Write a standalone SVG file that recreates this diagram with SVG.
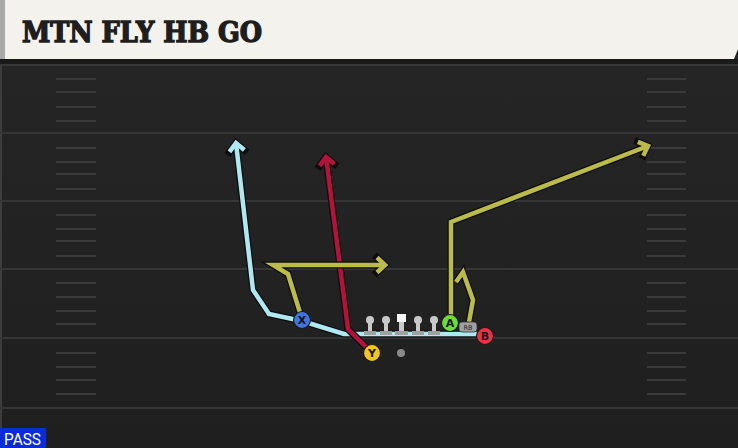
<svg xmlns="http://www.w3.org/2000/svg" width="738" height="448" viewBox="0 0 738 448">
<defs>
<linearGradient id="fieldg" x1="0" y1="0" x2="0" y2="1">
<stop offset="0" stop-color="#262626"/>
<stop offset="1" stop-color="#1f1f1f"/>
</linearGradient>
<marker id="ah-out" markerUnits="userSpaceOnUse" markerWidth="24" markerHeight="24" refX="0" refY="0" orient="auto" overflow="visible">
<path d="M-8,-7.5 L0,0 L-8,7.5" fill="none" stroke="#0d0d0d" stroke-width="7" stroke-linecap="square" stroke-linejoin="miter"/>
</marker>
<marker id="ah-cyan" markerUnits="userSpaceOnUse" markerWidth="24" markerHeight="24" refX="0" refY="0" orient="auto" overflow="visible">
<path d="M-8,-7.5 L0,0 L-8,7.5" fill="none" stroke="#aee9f2" stroke-width="4.5" stroke-linecap="butt"/>
</marker>
<marker id="ah-red" markerUnits="userSpaceOnUse" markerWidth="24" markerHeight="24" refX="0" refY="0" orient="auto" overflow="visible">
<path d="M-8,-7.5 L0,0 L-8,7.5" fill="none" stroke="#b3123a" stroke-width="4.5" stroke-linecap="butt"/>
</marker>
<marker id="ah-olive" markerUnits="userSpaceOnUse" markerWidth="24" markerHeight="24" refX="0" refY="0" orient="auto" overflow="visible">
<path d="M-8,-7.5 L0,0 L-8,7.5" fill="none" stroke="#bbbb4a" stroke-width="4.5" stroke-linecap="butt"/>
</marker>
</defs>
<style>
.yard{stroke:#363636;stroke-width:2}
.hash{stroke:#3a3a3a;stroke-width:2}
.out{fill:none;stroke:#0d0d0d;stroke-width:7;stroke-linejoin:miter;stroke-linecap:butt}
.rt{fill:none;stroke-width:4.5;stroke-linejoin:miter;stroke-linecap:butt}
.cyan{stroke:#aee9f2}
.red{stroke:#b3123a}
.olive{stroke:#bbbb4a}
.pl{stroke:#1a1a1a;stroke-width:1.2}
.lbl{font-family:"DejaVu Sans","Liberation Sans",sans-serif;font-weight:bold;font-size:11px;fill:#151515;text-anchor:middle}
.ol{fill:#c8c8c8}
.olb{fill:#a0a0a0}
</style>
<rect x="0" y="0" width="738" height="448" fill="url(#fieldg)"/>
<rect x="0" y="59" width="738" height="5" fill="#1a1a1a"/>
<rect x="0" y="64" width="2" height="384" fill="#3c3c3c"/>
<g id="yardlines">
<line class="yard" x1="0" y1="65" x2="738" y2="65"/>
<line class="yard" x1="0" y1="133" x2="738" y2="133"/>
<line class="yard" x1="0" y1="201" x2="738" y2="201"/>
<line class="yard" x1="0" y1="269" x2="738" y2="269"/>
<line class="yard" x1="0" y1="338" x2="738" y2="338"/>
<line class="yard" x1="0" y1="408" x2="738" y2="408"/>
</g>
<g id="hashes">
<path class="hash" d="M56,79H96M56,92H96M56,107H96M56,121H96M56,148H96M56,162H96M56,174H96M56,189H96M56,215H96M56,229H96M56,241H96M56,256H96M56,283H96M56,297H96M56,311H96M56,324H96M56,353H96M56,367H96M56,380H96M56,394H96"/>
<path class="hash" d="M647,79H686M647,92H686M647,107H686M647,121H686M647,148H686M647,162H686M647,174H686M647,189H686M647,215H686M647,229H686M647,241H686M647,256H686M647,283H686M647,297H686M647,311H686M647,324H686M647,353H686M647,367H686M647,380H686M647,394H686"/>
</g>
<g id="header">
<polygon points="0,0 738,0 738,49 734,59 0,59" fill="#f4f2ec"/>
<rect x="0" y="0" width="5" height="59" fill="#a9a9a9"/>
<text x="22" y="42" font-family="'DejaVu Serif','Liberation Serif',serif" font-weight="bold" font-size="27" fill="#1e1e1e" stroke="#1e1e1e" stroke-width="1.4" textLength="240" lengthAdjust="spacingAndGlyphs">MTN FLY HB GO</text>
</g>
<g id="routes">
<polyline class="out" points="480,334 344,334 302,321 269,314 253,290 236,143" marker-end="url(#ah-out)"/>
<polyline class="rt cyan" points="480,334 344,334 302,321 269,314 253,290 236,143" marker-end="url(#ah-cyan)"/>
<polyline class="out" points="372,353 348,329 326,157" marker-end="url(#ah-out)"/>
<polyline class="rt red" points="372,353 348,329 326,157" marker-end="url(#ah-red)"/>
<polyline class="out" points="302,319 288,274 273,265 385,265" marker-end="url(#ah-out)"/>
<polyline class="rt olive" points="302,319 288,274 273,265 385,265" marker-end="url(#ah-olive)"/>
<polyline class="out" points="451,318 451,222 648,146" marker-end="url(#ah-out)"/>
<polyline class="rt olive" points="451,318 451,222 648,146" marker-end="url(#ah-olive)"/>
<polyline class="out" points="469,322 473,300 463,272 456,282"/>
<polyline class="rt olive" points="469,322 473,300 463,272 456,282"/>
</g>
<g id="lt"><rect class="olb" x="364" y="331" width="12" height="4"/><rect class="ol" x="368" y="320" width="4" height="11"/><circle class="ol" cx="370" cy="320" r="4"/></g>
<g id="lg"><rect class="olb" x="380" y="331" width="12" height="4"/><rect class="ol" x="384" y="320" width="4" height="11"/><circle class="ol" cx="386" cy="320" r="4"/></g>
<g id="c"><rect class="olb" x="395" y="331" width="13" height="4"/><rect class="ol" x="399" y="321" width="5" height="10"/><rect x="397" y="314" width="9" height="8" fill="#f5f5f5"/></g>
<g id="rg"><rect class="olb" x="412" y="331" width="12" height="4"/><rect class="ol" x="416" y="320" width="4" height="11"/><circle class="ol" cx="418" cy="320" r="4"/></g>
<g id="rt"><rect class="olb" x="428" y="331" width="12" height="4"/><rect class="ol" x="432" y="320" width="4" height="11"/><circle class="ol" cx="434" cy="320" r="4"/></g>
<g id="ball"><circle cx="401" cy="353" r="4" fill="#8a8a8a"/></g>
<g id="X"><circle class="pl" cx="302" cy="320" r="8.5" fill="#3f74dc"/><text class="lbl" x="302" y="324">X</text></g>
<g id="Y"><circle class="pl" cx="372" cy="353" r="8.5" fill="#f2c522"/><text class="lbl" x="372" y="357">Y</text></g>
<g id="A"><circle class="pl" cx="450" cy="323" r="8.5" fill="#6bdc3e"/><text class="lbl" x="450" y="327">A</text></g>
<g id="RB"><rect x="459" y="322" width="18" height="10" rx="3" fill="#a0a0a0" stroke="#333" stroke-width="0.8"/><text x="468" y="330" font-family="'DejaVu Sans',sans-serif" font-size="6.5" fill="#222" text-anchor="middle">RB</text></g>
<g id="B"><circle class="pl" cx="485" cy="336" r="8.5" fill="#e33545"/><text class="lbl" x="485" y="340">B</text></g>
<g id="pass">
<rect x="0" y="428" width="46" height="20" fill="#0b2bd6"/>
<text x="4" y="445" font-family="Roboto,'Liberation Sans',sans-serif" font-size="17" fill="#ffffff" textLength="37" lengthAdjust="spacingAndGlyphs">PASS</text>
</g>
</svg>
